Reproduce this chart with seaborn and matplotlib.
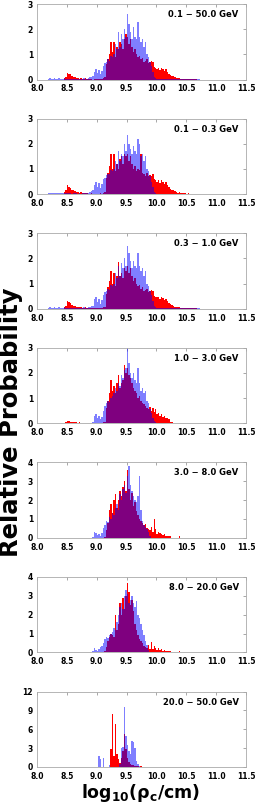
import numpy as np
import pandas as pd
import matplotlib
matplotlib.use('Agg')
import matplotlib.pyplot as plt
import seaborn as sns

sns.set_style('white')
plt.rcParams['font.family'] = ['DejaVu Sans']
plt.rcParams['font.weight'] = 'bold'
plt.rcParams['text.color'] = 'black'

BIN_W = 0.025
X_RANGE = (8.0, 11.5)

# energy bins (titles) and y tick sets
titles = ['0.1 \u2212 50.0 GeV', '0.1 \u2212 0.3 GeV', '0.3 \u2212 1.0 GeV', '1.0 \u2212 3.0 GeV',
          '3.0 \u2212 8.0 GeV', '8.0 \u2212 20.0 GeV', '20.0 \u2212 50.0 GeV']
yticks = [[0, 1, 2, 3], [0, 1, 2, 3], [0, 1, 2, 3], [0, 1, 2, 3],
          [0, 1, 2, 3, 4], [0, 1, 2, 3, 4], [0, 3, 6, 9, 12]]

# bin heights (bin width 0.025), with the left edge of the first bin
red_start = [8.45, 8.45, 8.45, 8.475, 9.125, 9.125, 9.2]
blue_start = [8.175, 8.175, 8.175, 8.925, 8.925, 8.925, 9.025]

red_01_50 = [0.05, 0.10, 0.25, 0.22, 0.20, 0.12, 0.10, 0.08, 0.06, 0.07, 0.04, 0.05, 0.02, 0.03, 0.05, 0.04,
             0.02, 0.01, 0.02, 0.00, 0.01, 0.02, 0.01, 0.02, 0.03, 0.02, 0.05, 0.08,
             0.60, 0.80, 1.00, 1.50, 1.10, 1.50, 0.90, 1.30, 1.20, 1.50, 1.40, 1.20, 1.60, 1.80, 1.70, 1.40,
             1.60, 1.30, 1.10, 1.20, 1.00, 0.90, 0.95, 0.80, 0.85, 0.70, 0.75, 0.80, 0.65, 0.70, 0.75, 0.70,
             0.50, 0.45, 0.40, 0.45, 0.38, 0.45, 0.40, 0.35, 0.42, 0.30, 0.20, 0.18, 0.15, 0.12, 0.08, 0.06,
             0.05, 0.05, 0.04, 0.03, 0.03, 0.02, 0.03, 0.02, 0.02, 0.01, 0.02, 0.01, 0.01]
blue_01_50 = [0.04, 0.05, 0.03, 0.04, 0.05, 0.04, 0.03, 0.05, 0.04, 0.04, 0.03, 0.05, 0.04,
              0.03, 0.04, 0.03, 0.02, 0.03, 0.04, 0.03, 0.02, 0.03, 0.02, 0.03, 0.05, 0.04, 0.03, 0.05,
              0.08, 0.10, 0.12,
              0.30, 0.40, 0.25, 0.38, 0.20, 0.35, 0.55, 0.65, 0.70, 0.80, 0.75, 0.95, 0.90, 1.00, 1.40, 1.20,
              1.90, 1.30, 1.80, 1.60, 2.00, 1.70, 2.60, 2.20, 1.90, 1.60, 2.10, 1.70, 1.60, 2.30, 1.70, 1.50,
              1.60, 1.30, 1.50, 1.00, 0.90, 0.70, 0.55, 0.30, 0.10, 0.05,
              0.02, 0.01, 0.02, 0.02, 0.01, 0.02, 0.01, 0.01, 0.02, 0.01, 0.02, 0.01, 0.01, 0.02, 0.01,
              0.01, 0.02, 0.01, 0.01, 0.01, 0.02, 0.01, 0.01, 0.01, 0.02, 0.01, 0.01, 0.01, 0.02]

red_01_03 = [0.08, 0.15, 0.35, 0.30, 0.25, 0.15, 0.18, 0.12, 0.10, 0.08, 0.06, 0.08, 0.03, 0.04, 0.06, 0.03,
             0.02, 0.02, 0.03, 0.01, 0.02, 0.02, 0.01, 0.02, 0.03, 0.02, 0.06, 0.10,
             0.65, 0.85, 1.10, 1.60, 1.00, 1.60, 0.90, 1.20, 1.00, 1.40, 1.50, 1.20, 1.60, 1.50, 1.60, 1.30,
             1.50, 1.20, 1.00, 1.10, 0.90, 1.00, 0.95, 1.60, 0.85, 0.80, 0.70, 0.85, 0.70, 0.75, 0.70, 0.80,
             0.60, 0.55, 0.50, 0.55, 0.45, 0.55, 0.50, 0.40, 0.50, 0.35, 0.28, 0.22, 0.18, 0.15, 0.12, 0.08,
             0.06, 0.07, 0.05, 0.04, 0.03, 0.03, 0.02, 0.03, 0.02, 0.01, 0.02, 0.01, 0.02]
blue_01_03 = [0.05, 0.06, 0.04, 0.05, 0.06, 0.04, 0.04, 0.06, 0.05, 0.04, 0.04, 0.06, 0.05,
              0.03, 0.05, 0.04, 0.02, 0.03, 0.05, 0.03, 0.02, 0.04, 0.02, 0.03, 0.06, 0.04, 0.03, 0.06,
              0.10, 0.12, 0.15,
              0.35, 0.50, 0.30, 0.45, 0.25, 0.40, 0.60, 0.65, 0.75, 0.80, 0.80, 0.95, 0.90, 1.00, 1.30, 1.20,
              1.70, 1.30, 1.60, 1.50, 2.00, 1.70, 2.35, 2.00, 1.80, 1.60, 1.90, 1.70, 1.60, 2.20, 2.00, 1.50,
              1.60, 1.30, 1.50, 1.00, 0.90, 0.70, 0.50, 0.30, 0.10, 0.05,
              0.02, 0.01, 0.02, 0.02, 0.01, 0.02, 0.01, 0.01, 0.02, 0.01, 0.02, 0.01, 0.01, 0.02, 0.01,
              0.01, 0.02, 0.01, 0.01, 0.01, 0.02, 0.01, 0.01, 0.01, 0.02, 0.01, 0.01, 0.01, 0.02]

red_03_10 = [0.06, 0.12, 0.30, 0.25, 0.22, 0.14, 0.12, 0.10, 0.08, 0.07, 0.05, 0.06, 0.03, 0.04, 0.05, 0.03,
             0.02, 0.01, 0.03, 0.01, 0.01, 0.02, 0.01, 0.02, 0.03, 0.02, 0.05, 0.08,
             0.60, 0.85, 1.10, 1.50, 1.00, 1.40, 0.90, 1.30, 1.85, 1.30, 1.40, 1.20, 1.60, 1.50, 1.70, 1.40,
             1.60, 1.30, 1.10, 1.20, 1.00, 0.90, 0.95, 0.80, 0.85, 0.70, 0.75, 0.80, 0.65, 0.70, 0.75, 0.70,
             0.50, 0.45, 0.45, 0.48, 0.40, 0.45, 0.42, 0.35, 0.40, 0.30, 0.22, 0.18, 0.15, 0.12, 0.08, 0.06,
             0.05, 0.05, 0.04, 0.03, 0.03, 0.02, 0.03, 0.02, 0.02, 0.01, 0.02, 0.01, 0.01]
blue_03_10 = [0.04, 0.05, 0.03, 0.04, 0.05, 0.04, 0.03, 0.05, 0.04, 0.04, 0.03, 0.05, 0.04,
              0.03, 0.04, 0.03, 0.02, 0.03, 0.04, 0.03, 0.02, 0.03, 0.02, 0.03, 0.05, 0.04, 0.03, 0.05,
              0.08, 0.10, 0.12,
              0.40, 0.45, 0.25, 0.40, 0.20, 0.35, 0.55, 0.65, 0.70, 0.80, 0.75, 0.95, 0.90, 1.00, 1.40, 1.20,
              1.70, 1.30, 1.80, 1.60, 2.00, 1.70, 2.50, 2.20, 1.90, 1.60, 1.90, 1.70, 1.60, 2.20, 1.70, 1.50,
              1.60, 1.30, 1.50, 1.00, 0.90, 0.70, 0.55, 0.30, 0.10, 0.05,
              0.02, 0.01, 0.02, 0.02, 0.01, 0.02, 0.01, 0.01, 0.02, 0.01, 0.02, 0.01, 0.01, 0.02, 0.01,
              0.01, 0.02, 0.01, 0.01, 0.01, 0.02, 0.01, 0.01, 0.01, 0.02, 0.01, 0.01, 0.01, 0.02]

red_10_30 = [0.03, 0.10, 0.08, 0.06, 0.05, 0.04, 0.03, 0.04, 0.02, 0.03, 0.02, 0.01, 0.02, 0.01, 0.02, 0.01,
             0.00, 0.01, 0.00, 0.01, 0.00, 0.01, 0.00, 0.01, 0.01, 0.03, 0.05,
             0.60, 0.90, 1.20, 1.70, 1.30, 1.50, 1.20, 1.60, 1.90, 1.40, 1.60, 1.70, 2.30, 2.00, 2.20, 1.90,
             1.80, 1.60, 1.40, 1.30, 1.20, 1.00, 1.10, 0.90, 0.80, 0.75, 0.70, 0.60, 0.55, 0.65, 0.50, 0.60,
             0.45, 0.55, 0.35, 0.40, 0.30, 0.38, 0.25, 0.30, 0.20, 0.22, 0.18, 0.05, 0.03, 0.02, 0.01, 0.02,
             0.01, 0.01, 0.02]
blue_10_30 = [0.05, 0.30, 0.35, 0.20, 0.30, 0.15, 0.25, 0.50, 0.70, 0.80, 0.90, 0.85, 1.00, 1.10, 1.20,
              1.40, 1.30, 1.60, 1.50, 1.90, 1.80, 2.10, 2.20, 3.00, 2.40, 2.00, 1.80, 2.00, 1.70, 1.60,
              2.20, 1.60, 1.30, 1.40, 1.20, 1.30, 0.90, 0.80, 0.55, 0.40, 0.20, 0.08, 0.03]

red_30_80 = [0.05, 0.40, 0.80, 1.50, 1.80, 1.30, 2.00, 2.30, 1.60, 2.00, 2.50, 2.20, 2.70, 3.00, 2.50,
             3.60, 2.60, 2.00, 2.40, 1.70, 1.90, 1.40, 1.20, 1.00, 0.90, 0.80, 0.70, 0.75, 0.50, 0.45,
             0.40, 0.55, 0.30, 1.00, 0.45, 0.20, 0.30, 0.25, 0.20, 0.15, 0.18, 0.10, 0.12, 0.08, 0.10,
             0.00, 0.00, 0.00, 0.00, 0.00, 0.12]
blue_30_80 = [0.05, 0.30, 0.25, 0.15, 0.20, 0.10, 0.25, 0.50, 0.70, 0.90, 0.85, 1.10, 1.00, 1.30, 1.20,
              1.60, 1.80, 1.50, 2.30, 2.00, 2.60, 2.80, 2.40, 3.30, 3.80, 2.80, 2.50, 2.20, 2.00, 1.90,
              2.20, 3.30, 1.50, 0.90, 0.70, 0.60, 0.45, 0.30, 0.10]

red_80_200 = [0.05, 0.30, 0.60, 0.80, 1.00, 0.90, 0.80, 2.00, 1.20, 1.50, 2.60, 2.00, 2.90, 2.30, 3.00,
              3.70, 3.20, 2.50, 2.80, 2.20, 1.50, 1.20, 0.90, 0.70, 0.60, 0.50, 0.35, 0.30, 0.25, 0.40,
              0.20, 0.55, 0.20, 0.35, 0.25, 0.15, 0.25, 0.15, 0.20, 0.10, 0.12, 0.08, 0.10, 0.05, 0.08,
              0.00, 0.00, 0.00, 0.00, 0.00, 0.08]
blue_80_200 = [0.05, 0.25, 0.15, 0.10, 0.20, 0.30, 0.35, 0.50, 0.70, 0.80, 0.75, 0.90, 1.00, 1.10, 1.30,
               1.20, 1.60, 2.00, 2.40, 2.60, 2.30, 3.00, 3.30, 3.10, 2.60, 2.80, 3.00, 2.60, 2.40, 2.70,
               2.00, 1.80, 1.50, 1.20, 0.90, 0.60, 0.40, 0.15]

red_200_500 = [0.0, 2.8, 8.4, 1.8, 6.8, 2.0, 1.2, 0.6, 1.5, 2.5, 5.2, 2.8, 1.5, 0.8, 0.5, 0.3, 0.3,
               0.2, 0.1, 0.1, 0.05, 0.1]
blue_200_500 = [1.7, 1.2, 0.0, 1.5, 0.0, 0.0, 0.0, 0.3, 0.0, 0.0, 0.0, 0.0, 0.0, 0.0, 0.5, 3.0, 3.2,
                9.5, 5.0, 3.5, 2.5, 2.0, 4.2, 4.0, 3.0, 1.0, 0.5, 0.2]

red_series = [red_01_50, red_01_03, red_03_10, red_10_30, red_30_80, red_80_200, red_200_500]
blue_series = [blue_01_50, blue_01_03, blue_03_10, blue_10_30, blue_30_80, blue_80_200, blue_200_500]


def to_frame(start, heights):
    centers = start + BIN_W * (np.arange(len(heights)) + 0.5)
    return pd.DataFrame({'logrho': centers, 'prob': heights})


fig, axes = plt.subplots(7, 1, figsize=(2.56, 8.06), dpi=100)
fig.subplots_adjust(left=0.145, right=0.961, top=0.995, bottom=0.0484, hspace=0.518)

xt = np.arange(8.0, 11.51, 0.5)
for i, ax in enumerate(axes):
    red = to_frame(red_start[i], red_series[i])
    blue = to_frame(blue_start[i], blue_series[i])
    sns.histplot(data=red, x='logrho', weights='prob', binwidth=BIN_W, binrange=X_RANGE,
                 color='red', alpha=1.0, linewidth=0, ax=ax)
    sns.histplot(data=blue, x='logrho', weights='prob', binwidth=BIN_W, binrange=X_RANGE,
                 color='blue', alpha=0.5, linewidth=0, ax=ax)
    ax.set_xlim(*X_RANGE)
    ax.set_ylim(yticks[i][0], yticks[i][-1])
    ax.set_yticks(yticks[i])
    ax.set_xticks(xt)
    ax.set_xticklabels([f'{t:.1f}' for t in xt])
    ax.set_xlabel('')
    ax.set_ylabel('')
    ax.tick_params(direction='in', length=2, width=0.6, color='#999999', labelcolor='black',
                   top=True, right=True, labelsize=5.5)
    ax.tick_params(axis='x', pad=3.5)
    ax.tick_params(axis='y', pad=3)
    for lab in ax.get_xticklabels() + ax.get_yticklabels():
        lab.set_fontweight('bold')
    for sp in ax.spines.values():
        sp.set_color('#aaaaaa')
        sp.set_linewidth(0.6)
    ax.text(0.965, 0.86, titles[i], transform=ax.transAxes, ha='right', va='center',
            fontsize=6, fontweight='bold', color='black')

fig.text(0.042, 0.476, 'Relative Probability', rotation=90, ha='center', va='center',
         fontsize=17.5, fontweight='bold', color='black')
fig.text(0.551, 0.003, r'$\mathbf{log_{10}(\rho_c/cm)}$', ha='center', va='bottom', fontsize=12.5,
         color='black')

fig.savefig('out.png', dpi=100)
